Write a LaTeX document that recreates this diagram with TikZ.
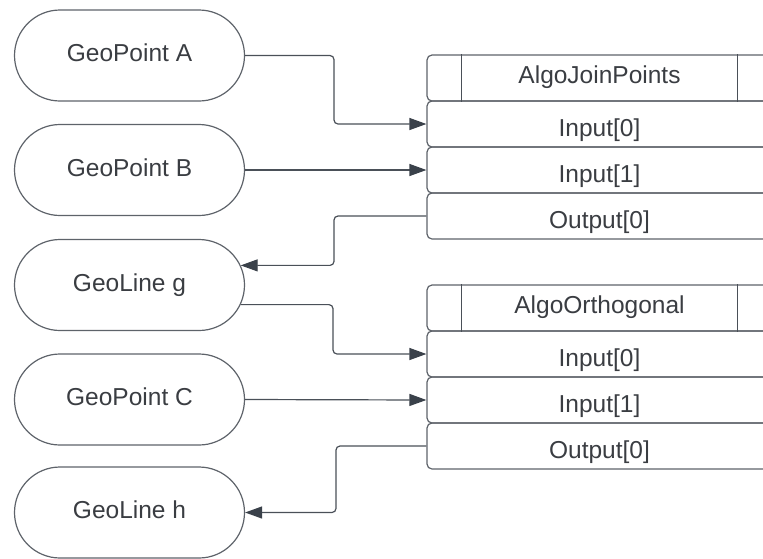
\documentclass[tikz,border=0pt]{standalone}
\usepackage{fontspec}
\setmainfont{Liberation Sans}
\usetikzlibrary{shapes.misc,arrows.meta}
\definecolor{lineC}{HTML}{4A5058}
\definecolor{boxC}{HTML}{5E636A}
\definecolor{textC}{HTML}{3A3D42}
\definecolor{tipC}{HTML}{3A414A}
\begin{document}
\begin{tikzpicture}[x=1pt,y=-1pt,
  every node/.style={font=\fontsize{24.5}{29}\selectfont, text=textC},
  pill/.style={draw=boxC, line width=1.2pt, rounded rectangle, minimum width=230pt, minimum height=91pt, inner sep=0pt, text height=12.6pt, text depth=0pt},
  rowbox/.style={draw=boxC, line width=1.2pt, rectangle, rounded corners=5pt, minimum width=345pt, minimum height=46pt, inner sep=0pt, text height=24.6pt, text depth=0pt},
  headbox/.style={rowbox, text height=10.6pt, text depth=0pt},
  conn/.style={draw=lineC, line width=1.2pt, rounded corners=4pt},
  arr/.style={conn, -{Triangle[length=17pt,width=12pt,color=tipC]}}
]
\useasboundingbox (0,0) rectangle (763,558);
\clip (0,0) rectangle (763,558);
% pills
\node[pill] (pa) at (129.5,55.5) {GeoPoint A};
\node[pill] (pb) at (129.5,170) {GeoPoint B};
\node[pill] (pg) at (129.5,285) {GeoLine g};
\node[pill] (pc) at (129.5,399.5) {GeoPoint C};
\node[pill] (ph) at (129.5,512.5) {GeoLine h};
% box 1
\node[headbox] (h1) at (599.5,78) {AlgoJoinPoints};
\node[rowbox] (i10) at (599.5,124) {Input[0]};
\node[rowbox] (i11) at (599.5,170) {Input[1]};
\node[rowbox] (o10) at (599.5,216) {Output[0]};
\draw[lineC, line width=1.2pt] ([xshift=35pt]h1.north west) -- ([xshift=35pt]h1.south west);
\draw[lineC, line width=1.2pt] ([xshift=-35pt]h1.north east) -- ([xshift=-35pt]h1.south east);
% box 2
\node[headbox] (h2) at (599.5,308) {AlgoOrthogonal};
\node[rowbox] (i20) at (599.5,354) {Input[0]};
\node[rowbox] (i21) at (599.5,400) {Input[1]};
\node[rowbox] (o20) at (599.5,446) {Output[0]};
\draw[lineC, line width=1.2pt] ([xshift=35pt]h2.north west) -- ([xshift=35pt]h2.south west);
\draw[lineC, line width=1.2pt] ([xshift=-35pt]h2.north east) -- ([xshift=-35pt]h2.south east);
% connectors
\draw[arr] (pa.east) -- (334,55.5) |- (i10.west);
\draw[arr] (pb.east) -- (i11.west);
\draw[arr] (o10.west) -- (334,216) |- (pg.10.9);
\draw[arr] (pg.-10.3) -| (333,330) |- (i20.west);
\draw[arr] (pc.east) -- (i21.west);
\draw[arr] (o20.west) -- (336,446) |- (ph.east);
\end{tikzpicture}
\end{document}
